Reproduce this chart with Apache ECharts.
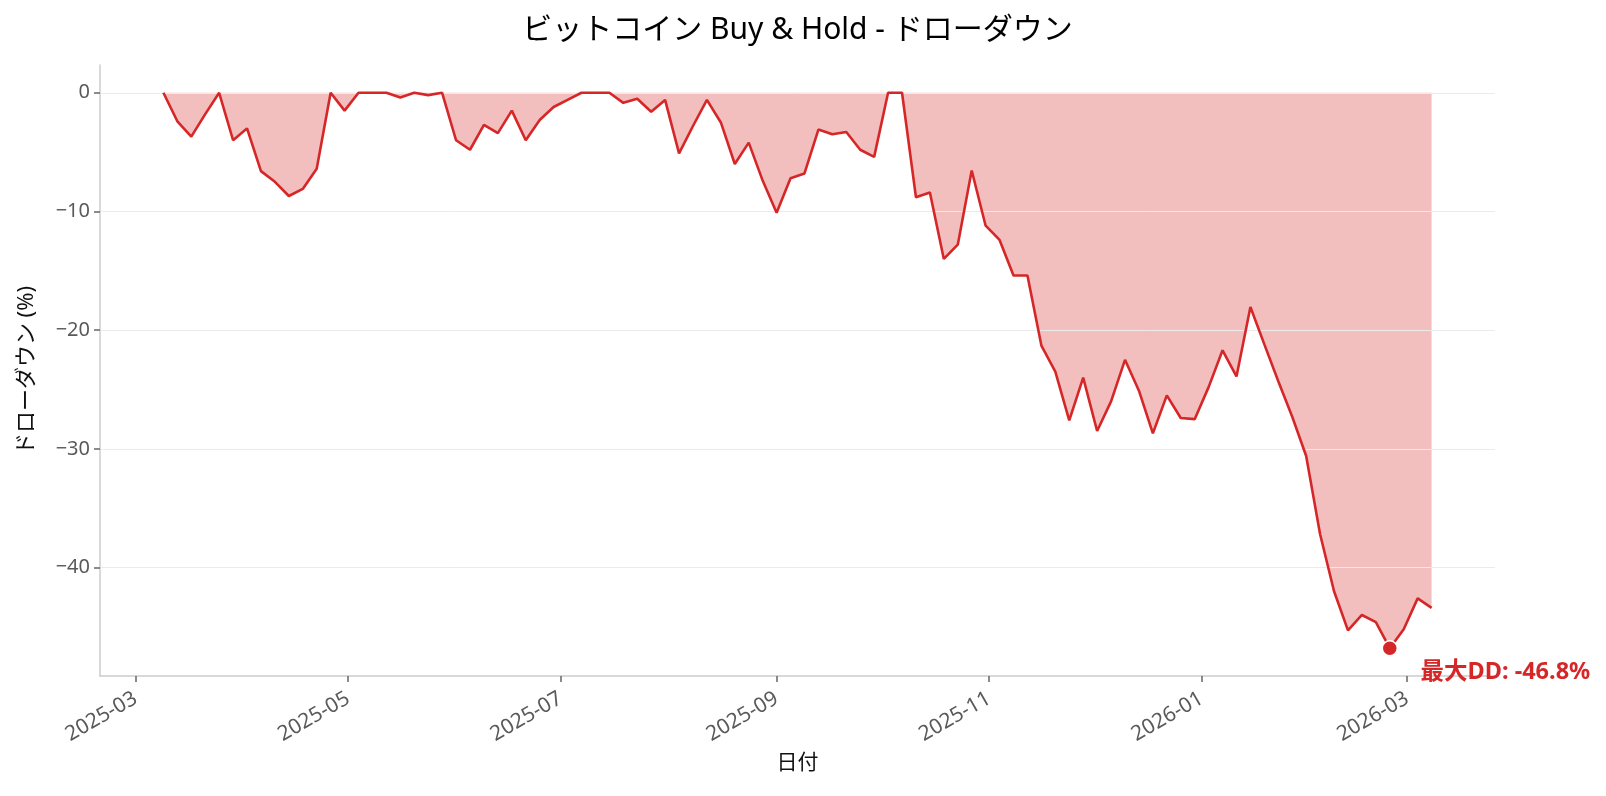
<!DOCTYPE html>
<html>
<head>
<meta charset="utf-8">
<script src="https://cdn.jsdelivr.net/npm/echarts@6/dist/echarts.min.js"></script>
<style>
html,body{margin:0;padding:0;background:#fff;}
#c{width:1606px;height:796px;}
</style>
</head>
<body>
<div id="c"></div>
<script>
// ---- data ----
const dates = [
 '2025-03-09','2025-03-13','2025-03-17','2025-03-21','2025-03-25','2025-03-29','2025-04-02','2025-04-06',
 '2025-04-10','2025-04-14','2025-04-18','2025-04-22','2025-04-26','2025-04-30','2025-05-04','2025-05-08',
 '2025-05-12','2025-05-16','2025-05-20','2025-05-24','2025-05-28','2025-06-01','2025-06-05','2025-06-09',
 '2025-06-13','2025-06-17','2025-06-21','2025-06-25','2025-06-29','2025-07-03','2025-07-07','2025-07-11',
 '2025-07-15','2025-07-19','2025-07-23','2025-07-27','2025-07-31','2025-08-04','2025-08-08','2025-08-12',
 '2025-08-16','2025-08-20','2025-08-24','2025-08-28','2025-09-01','2025-09-05','2025-09-09','2025-09-13',
 '2025-09-17','2025-09-21','2025-09-25','2025-09-29','2025-10-03','2025-10-07','2025-10-11','2025-10-15',
 '2025-10-19','2025-10-23','2025-10-27','2025-10-31','2025-11-04','2025-11-08','2025-11-12','2025-11-16',
 '2025-11-20','2025-11-24','2025-11-28','2025-12-02','2025-12-06','2025-12-10','2025-12-14','2025-12-18',
 '2025-12-22','2025-12-26','2025-12-30','2026-01-03','2026-01-07','2026-01-11','2026-01-15','2026-01-19',
 '2026-01-23','2026-01-27','2026-01-31','2026-02-04','2026-02-08','2026-02-12','2026-02-16','2026-02-20',
 '2026-02-24','2026-02-28','2026-03-04','2026-03-08'
];
const drawdown = [
 0, -2.4, -3.7, -1.8, 0, -4.0, -3.0, -6.6,
 -7.5, -8.7, -8.1, -6.4, 0, -1.5, 0, 0,
 0, -0.4, 0, -0.2, 0, -4.0, -4.8, -2.7,
 -3.4, -1.5, -4.0, -2.3, -1.2, -0.6, 0, 0,
 0, -0.85, -0.5, -1.6, -0.6, -5.1, -2.8, -0.6,
 -2.5, -6.0, -4.2, -7.4, -10.1, -7.2, -6.8, -3.1,
 -3.5, -3.3, -4.8, -5.4, 0, 0, -8.8, -8.4,
 -14.0, -12.8, -6.55, -11.2, -12.4, -15.4, -15.4, -21.3,
 -23.5, -27.6, -24.0, -28.5, -26.0, -22.5, -25.1, -28.7,
 -25.5, -27.4, -27.5, -24.8, -21.7, -23.9, -18.05, -21.2,
 -24.3, -27.3, -30.6, -37.2, -42.0, -45.3, -44.0, -44.6,
 -46.8, -45.2, -42.6, -43.4
];
const xTickDates = ['2025-03-01','2025-05-01','2025-07-01','2025-09-01','2025-11-01','2026-01-01','2026-03-01'];
const xTickLabels = ['2025-03','2025-05','2025-07','2025-09','2025-11','2026-01','2026-03'];
const yTicks = [0, -10, -20, -30, -40];
const yTickLabels = ['0', '\u221210', '\u221220', '\u221230', '\u221240'];
const maxDDDate = '2026-02-24';
const maxDD = -46.8;
const maxDDLabel = '最大DD: -46.8%';
const titleText = 'ビットコイン Buy & Hold - ドローダウン';

// ---- helpers ----
function ts(s){ const p = s.split('-').map(Number); return Date.UTC(p[0], p[1]-1, p[2]); }
const seriesData = dates.map((d, i) => [ts(d), drawdown[i]]);
const xTickVals = xTickDates.map(ts);
const xLabelMap = {}; xTickVals.forEach((v, i) => xLabelMap[v] = xTickLabels[i]);
const yLabelMap = {}; yTicks.forEach((v, i) => yLabelMap[v] = yTickLabels[i]);
const t0 = ts(dates[0]), t1 = ts(dates[dates.length - 1]);
const xPad = (t1 - t0) * 0.05;
const yMinData = Math.min(...drawdown), yMaxData = Math.max(...drawdown);
const yPad = (yMaxData - yMinData) * 0.05;

const FONT = "'Noto Sans', 'Noto Sans CJK JP', sans-serif";
const RED = '#d62728';
const GRID = {left: 100, right: 111, top: 65, bottom: 120};
const W = 1606;
const TITLE_SIZE = 30;

// centre the title over the plot area (not the whole canvas)
const mctx = document.createElement('canvas').getContext('2d');
mctx.font = TITLE_SIZE + 'px ' + FONT;
const titleW = mctx.measureText(titleText).width;
const titleLeft = GRID.left + (W - GRID.left - GRID.right) / 2 - titleW / 2;

const chart = echarts.init(document.getElementById('c'), null, {renderer: 'canvas'});
chart.setOption({
  animation: false,
  backgroundColor: '#fff',
  textStyle: {fontFamily: FONT},
  title: {
    text: titleText,
    left: titleLeft, top: 15, padding: 0,
    textStyle: {fontFamily: FONT, fontSize: TITLE_SIZE, fontWeight: 'normal', color: '#000'}
  },
  grid: Object.assign({containLabel: false}, GRID),
  xAxis: {
    type: 'value',
    min: t0 - xPad, max: t1 + xPad,
    z: 2,
    name: '日付', nameLocation: 'middle', nameGap: 77,
    nameTextStyle: {fontFamily: FONT, fontSize: 21, color: '#111'},
    axisLine: {show: true, onZero: false, lineStyle: {color: '#cccccc', width: 1.5}},
    axisTick: {show: true, length: 6, lineStyle: {color: '#666', width: 1.5}, customValues: xTickVals},
    axisLabel: {
      customValues: xTickVals,
      rotate: 30, margin: 21, fontSize: 21, color: '#5a5a5a', fontFamily: FONT,
      formatter: v => xLabelMap[v] || ''
    },
    splitLine: {show: false}
  },
  yAxis: {
    type: 'value',
    min: yMinData - yPad, max: yMaxData + yPad,
    z: 2,
    name: 'ドローダウン (%)', nameLocation: 'middle', nameGap: 62, nameRotate: 90,
    nameTextStyle: {fontFamily: FONT, fontSize: 22, color: '#111'},
    axisLine: {show: true, lineStyle: {color: '#cccccc', width: 1.5}},
    axisTick: {show: true, length: 6, lineStyle: {color: '#666', width: 1.5}, customValues: yTicks},
    axisLabel: {
      customValues: yTicks,
      margin: 10, fontSize: 20, color: '#5a5a5a', fontFamily: FONT,
      formatter: v => yLabelMap[v] !== undefined ? yLabelMap[v] : ''
    },
    splitLine: {show: true, lineStyle: {color: '#ebebeb', width: 1}}
  },
  series: [
    {
      type: 'line', name: 'fill', data: seriesData, z: 1,
      symbol: 'none', silent: true,
      lineStyle: {width: 0, opacity: 0},
      areaStyle: {color: 'rgba(214,39,40,0.3)', opacity: 1, origin: 0}
    },
    {
      type: 'line', name: 'drawdown', data: seriesData, z: 3,
      symbol: 'none',
      lineStyle: {color: RED, width: 2.6},
      markPoint: {
        symbol: 'circle', symbolSize: 15,
        itemStyle: {color: RED, borderColor: '#fff', borderWidth: 1.5},
        data: [{coord: [ts(maxDDDate), maxDD], value: maxDD}],
        label: {
          show: true, formatter: maxDDLabel,
          position: [39, 32], align: 'left', verticalAlign: 'middle',
          color: RED, fontSize: 23.5, fontWeight: 'bold', fontFamily: FONT
        }
      }
    }
  ]
});
</script>
</body>
</html>
